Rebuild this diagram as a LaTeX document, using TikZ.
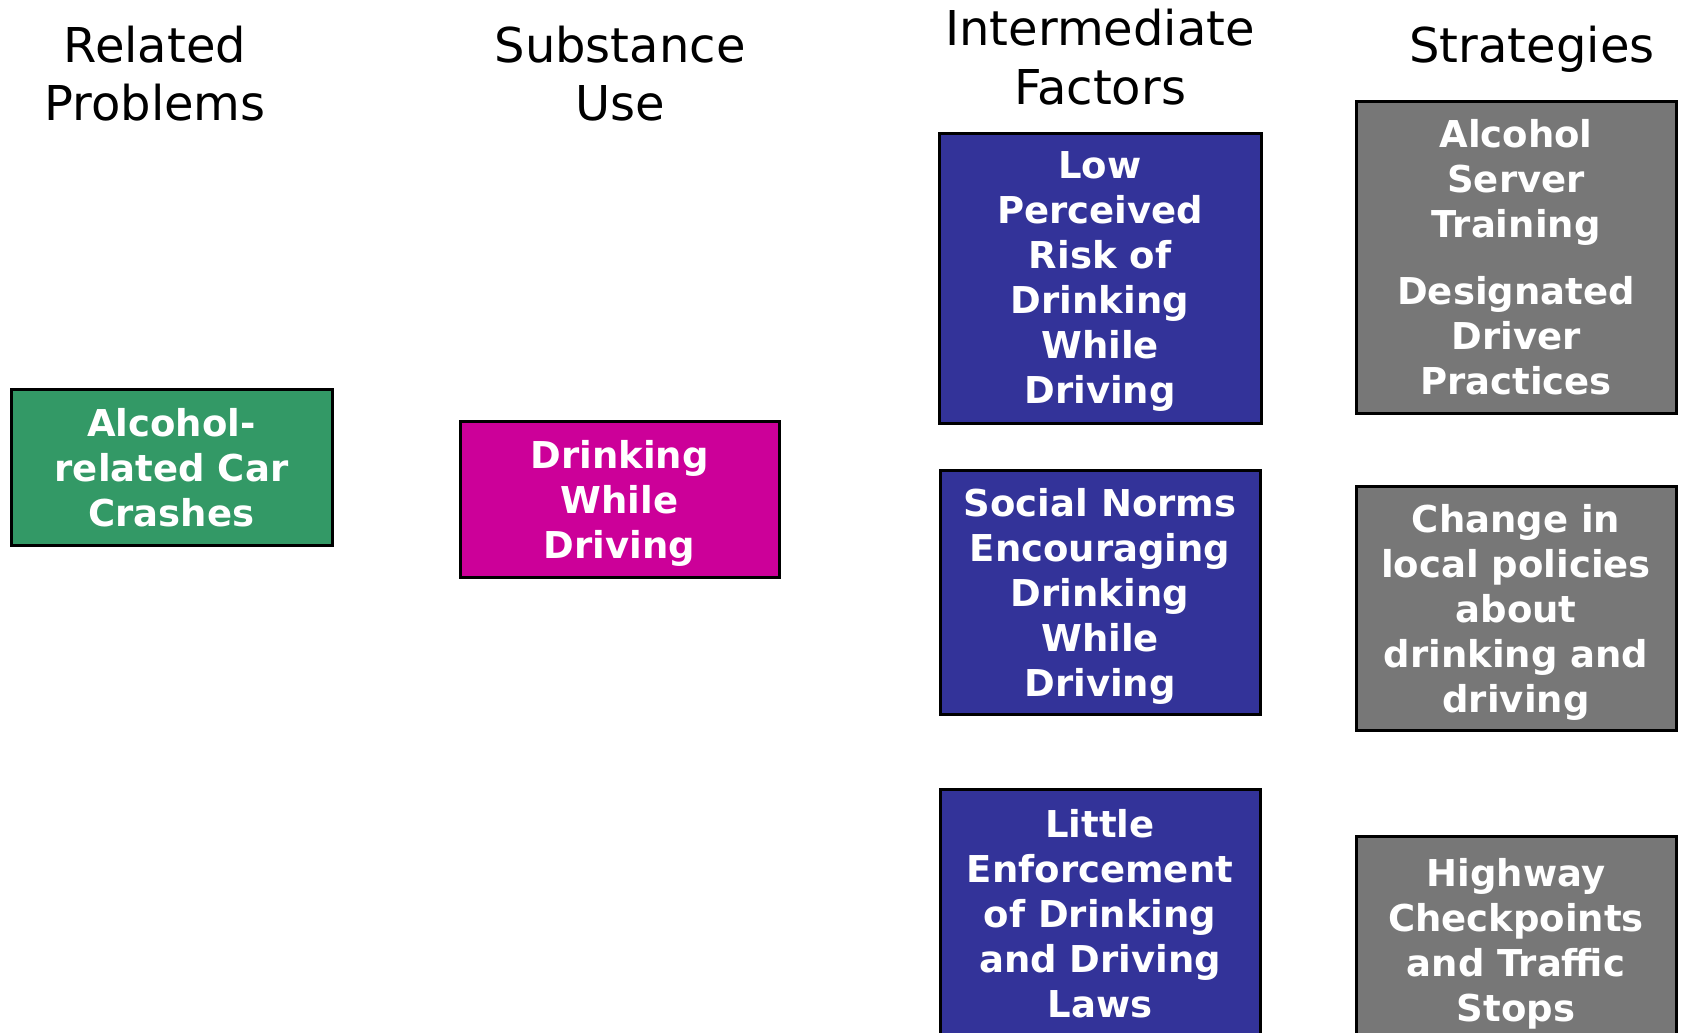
\documentclass[tikz,border=0pt]{standalone}
\usepackage{fontspec}
\setmainfont{DejaVu Sans}
\definecolor{cgreen}{HTML}{339966}
\definecolor{cmag}{HTML}{CC0099}
\definecolor{cblue}{HTML}{333399}
\definecolor{cgray}{HTML}{777777}
\tikzset{
  box/.style={draw=black, line width=1.5pt, text=white, align=center, inner sep=0pt,
    text depth=0pt, font=\bfseries\fontsize{18.5}{22.5}\selectfont},
  head/.style={anchor=base, align=center, inner sep=0pt, font=\fontsize{24}{29}\selectfont},
}
\begin{document}
\begin{tikzpicture}[x=0.5pt,y=-0.5pt]
\useasboundingbox (0,0) rectangle (1681,1033);
\clip (0,0) rectangle (1681,1033);
% headers
\node[head] (h1a) at (155,62) {Related};
\node[head] (h1b) at (155,120) {Problems};
\node[head] (h2a) at (620,62) {Substance};
\node[head] (h2b) at (620,120) {Use};
\node[head] (h3a) at (1100,46) {Intermediate};
\node[head] (h3b) at (1100,104) {Factors};
\node[head] (h4a) at (1532,62) {Strategies};
% boxes
\node[box, fill=cgreen, minimum width=160.5pt, minimum height=78pt] (crash) at (171.5,467)
  {Alcohol-\\related Car\\Crashes};
\node[box, fill=cmag, minimum width=159.5pt, minimum height=78pt] (dwd) at (619.5,499)
  {Drinking\\While\\Driving};
\node[box, fill=cblue, minimum width=161pt, minimum height=145pt] (risk) at (1100,278)
  {Low\\Perceived\\Risk of\\Drinking\\While\\Driving};
\node[box, fill=cblue, minimum width=160pt, minimum height=122pt] (norms) at (1100,592)
  {Social Norms\\Encouraging\\Drinking\\While\\Driving};
\node[box, fill=cblue, minimum width=160pt, minimum height=124pt] (enf) at (1100,913)
  {Little\\Enforcement\\of Drinking\\and Driving\\Laws};
\node[box, fill=cgray, minimum width=160pt, minimum height=156pt] (serv) at (1516,257)
  {Alcohol\\Server\\Training\\[11pt]Designated\\Driver\\Practices};
\node[box, fill=cgray, minimum width=160pt, minimum height=122pt] (pol) at (1516,608)
  {Change in\\local policies\\about\\drinking and\\driving};
\node[box, fill=cgray, minimum width=160pt, minimum height=103pt] (check) at (1516,939.5)
  {Highway\\Checkpoints\\and Traffic\\Stops};
\end{tikzpicture}
\end{document}
